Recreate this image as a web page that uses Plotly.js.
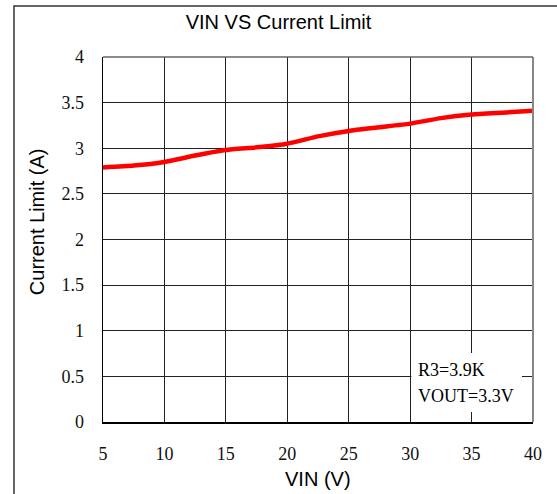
<!DOCTYPE html>
<html>
<head>
<meta charset="utf-8">
<script src="https://cdn.plot.ly/plotly-3.0.1.min.js"></script>
<style>html,body{margin:0;padding:0;background:#fff;}#chart{width:557px;height:494px;}</style>
</head>
<body>
<div id="chart"></div>
<script>
const vin = [5, 7.5, 10, 12.5, 15, 17.5, 20, 22.5, 25, 27.5, 30, 32.5, 35, 37.5, 40];
const currentLimit = [2.79, 2.81, 2.85, 2.92, 2.98, 3.01, 3.05, 3.13, 3.19, 3.23, 3.27, 3.33, 3.37, 3.39, 3.41];
const xTicks = [5, 10, 15, 20, 25, 30, 35, 40];
const yTicks = [0, 0.5, 1, 1.5, 2, 2.5, 3, 3.5, 4];
const yTickText = ['0', '0.5', '1', '1.5', '2', '2.5', '3', '3.5', '4'];
const noteLines = ['R3=3.9K', 'VOUT=3.3V'];

const serif = 'Liberation Serif';
const sans = 'Liberation Sans Narrow, Liberation Sans, Arial, sans-serif';

const trace = {
  x: vin, y: currentLimit, type: 'scatter', mode: 'lines',
  line: {color: '#ff0000', width: 4.5, shape: 'spline', smoothing: 0.5},
  hoverinfo: 'skip'
};

const layout = {
  width: 557, height: 494,
  margin: {l: 103, r: 24, t: 57, b: 72},
  paper_bgcolor: '#ffffff', plot_bgcolor: '#ffffff',
  showlegend: false,
  font: {family: serif, color: '#000'},
  title: {text: 'VIN VS Current Limit', x: 0.5, xref: 'container', y: 0.955, yref: 'container', yanchor: 'middle',
          font: {family: sans, size: 20, color: '#000'}},
  xaxis: {
    range: [5, 40], tickvals: xTicks, ticktext: xTicks.map(String),
    showgrid: true, gridcolor: '#222', gridwidth: 1,
    showline: true, linecolor: '#000', linewidth: 1.5, mirror: false,
    ticks: '', ticklabelstandoff: 15, zeroline: false,
    tickfont: {family: serif, size: 18, color: '#111'}, fixedrange: true
  },
  yaxis: {
    range: [0, 4], tickvals: yTicks, ticktext: yTickText,
    showgrid: true, gridcolor: '#222', gridwidth: 1,
    showline: true, linecolor: '#000', linewidth: 1.5, mirror: false,
    ticks: '', ticklabelstandoff: 14, zeroline: false,
    tickfont: {family: serif, size: 18, color: '#111'}, fixedrange: true
  },
  shapes: [
    {type: 'rect', xref: 'paper', yref: 'paper', x0: -0.207, x1: 1.08, y0: -0.25, y1: 1.14,
     line: {color: '#333', width: 1.5}, fillcolor: 'rgba(0,0,0,0)', layer: 'below'},
    {type: 'line', xref: 'paper', yref: 'paper', x0: 1, x1: 1, y0: 0, y1: 1, line: {color: '#888', width: 2}},
    {type: 'line', xref: 'paper', yref: 'paper', x0: 0, x1: 1, y0: 1, y1: 1, line: {color: '#666', width: 1.5}},
    {type: 'rect', xref: 'x', yref: 'y', x0: 30.1, x1: 39.1, y0: 0.11, y1: 0.755,
     line: {width: 0}, fillcolor: '#ffffff', layer: 'above'}
  ],
  annotations: [
    {xref: 'paper', yref: 'paper', x: 0.5, y: -0.155, yanchor: 'middle', showarrow: false,
     text: 'VIN (V)', font: {family: sans, size: 20, color: '#000'}},
    {xref: 'paper', yref: 'paper', x: -0.153, y: 0.548, xanchor: 'center', yanchor: 'middle', showarrow: false, textangle: -90,
     text: 'Current Limit (A)', font: {family: sans, size: 20, color: '#000'}},
    {xref: 'x', yref: 'y', x: 30.45, y: 0.57, xanchor: 'left', yanchor: 'middle', showarrow: false,
     text: noteLines[0], font: {family: serif, size: 18, color: '#000'}},
    {xref: 'x', yref: 'y', x: 30.45, y: 0.29, xanchor: 'left', yanchor: 'middle', showarrow: false,
     text: noteLines[1], font: {family: serif, size: 18, color: '#000'}}
  ]
};

Plotly.newPlot('chart', [trace], layout, {displayModeBar: false, staticPlot: true});
</script>
</body>
</html>
